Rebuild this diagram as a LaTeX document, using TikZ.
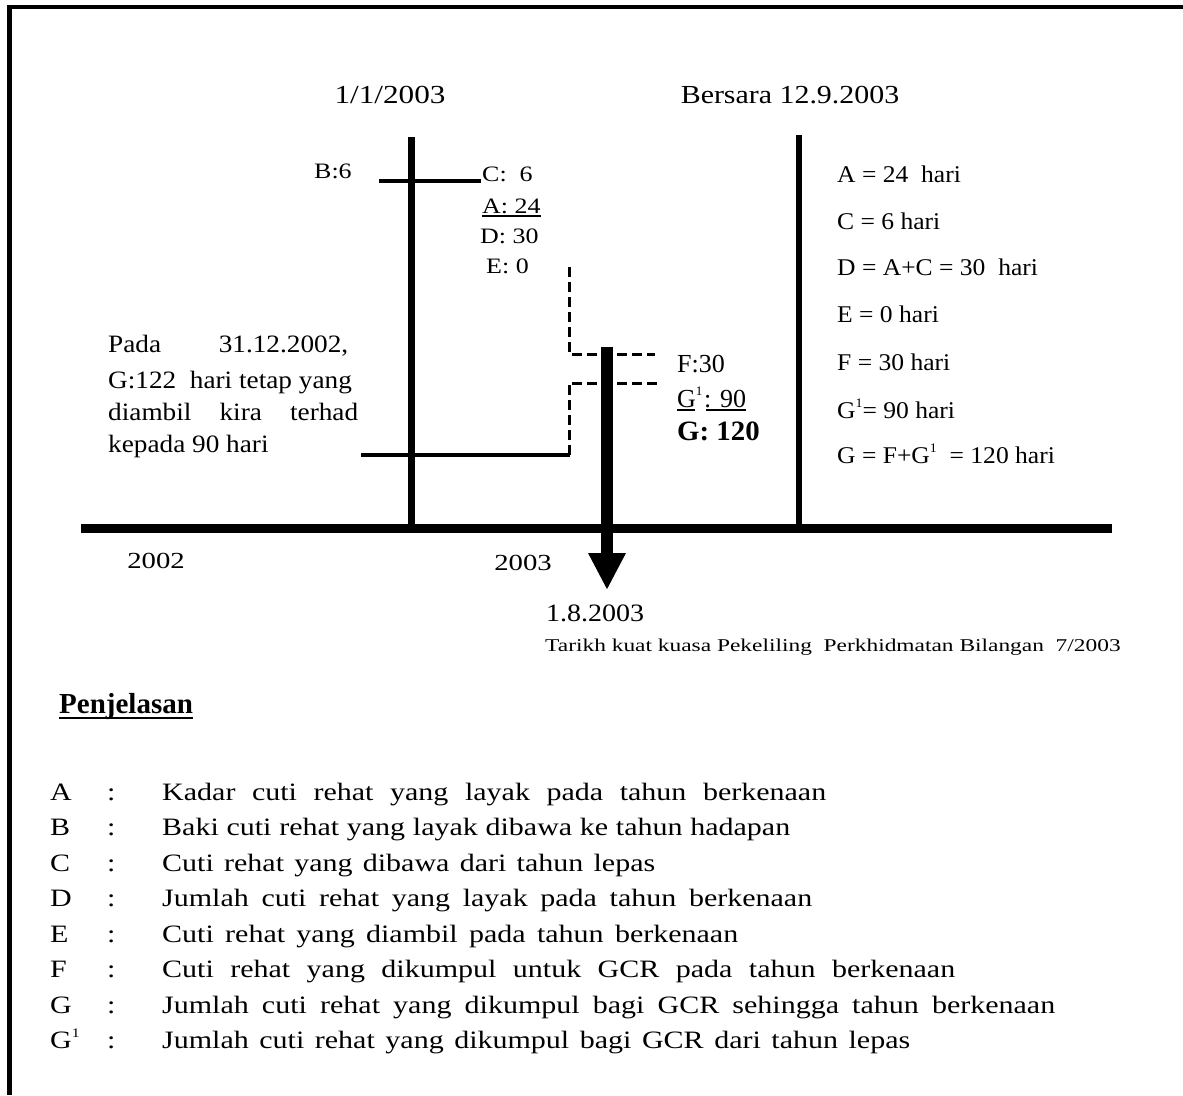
\documentclass[tikz,border=0pt]{standalone}
\usepackage{fontspec}
\setmainfont{Liberation Serif}
\usetikzlibrary{arrows.meta,calc}
\newcommand\fnt[2]{\fontsize{#1}{#1}\selectfont\addfontfeature{FakeStretch=#2}}
\newcommand\supone{\raisebox{0.45em}{\fontsize{13}{13}\selectfont 1}}
\begin{document}
\begin{tikzpicture}[x=1pt,y=-1pt,
  t/.style={inner sep=0pt, anchor=base west},
  tc/.style={inner sep=0pt, anchor=base},
  sm/.style={font=\fnt{22}{1.18}},
  fg/.style={font=\fnt{26}{1.0}},
  rl/.style={font=\fnt{24}{1.065}},
  para/.style={font=\fnt{25}{1.09}},
  yr/.style={font=\fnt{23}{1.25}},
  leg/.style={font=\fnt{25}{1.2}},
  dashline/.style={line width=3pt, dash pattern=on 10pt off 5pt},
  ul/.style={line width=1.5pt}]
\useasboundingbox (0,0) rectangle (1183,1095);
% frame
\coordinate (fr1) at (7.3,7);
\coordinate (fr2) at (1183,7);
\coordinate (fl1) at (9.5,5);
\coordinate (fl2) at (9.5,1095);
\draw[line width=4pt] (fr1) -- (fr2);
\draw[line width=4.5pt] (fl1) -- (fl2);
% timeline
\coordinate (tl1) at (81,528);
\coordinate (tl2) at (1112,528);
\coordinate (v1a) at (411,137);
\coordinate (v1b) at (411,528);
\coordinate (v2a) at (799,135);
\coordinate (v2b) at (799,528);
\draw[line width=7pt] (v1a) -- (v1b);
\draw[line width=6pt] (v2a) -- (v2b);
\draw[line width=9pt] (tl1) -- (tl2);
% B line
\coordinate (bl1) at (379,181);
\coordinate (bl2) at (481,181);
\draw[line width=4pt] (bl1) -- (bl2);
% lower solid line
\coordinate (sl1) at (361,455);
\coordinate (sl2) at (570,455);
\draw[line width=4pt] (sl1) -- (sl2);
% dashed
\coordinate (d1a) at (569,267);
\coordinate (d1b) at (569,354);
\coordinate (d1c) at (655,354);
\coordinate (d2a) at (569,455);
\coordinate (d2b) at (569,383);
\coordinate (d2c) at (659,383);
\draw[dashline] (d1a) -- (d1b) -- (d1c);
\draw[dashline] (d2a) -- (d2b) -- (d2c);
% arrow
\coordinate (ar1) at (607,347);
\coordinate (ar2) at (607,590);
\draw[line width=12pt, -{Triangle[width=35pt,length=37pt]}] (ar1) -- (ar2);
% top labels
\node[tc,font=\fnt{26}{1.2}] (d0101) at (390,103) {1/1/2003};
\node[tc,font=\fnt{26}{1.15}] (bersara) at (790,103) {Bersara 12.9.2003};
% left values
\node[t,sm] (nB) at (314,178) {B:6};
\node[t,sm] (nC) at (482,181) {C:\ \ 6};
\node[t,sm] (nA) at (482,213) {A: 24};
\draw[ul] ($(nA.base west)+(0,3)$) -- ($(nA.base east)+(0,3)$);
\node[t,sm] (nD) at (480,243) {D: 30};
\node[t,sm] (nE) at (486,273) {E: 0};
% F G values
\node[t,fg] (nF) at (677,372) {F:30};
\node[t,fg] (nG1a) at (677,407) {G\supone};
\node[t,fg] (nG1b) at (704,407) {: 90};
\draw[ul] ($(nG1a.base west)+(0,3)$) -- ($(nG1a.base west)+(18,3)$);
\draw[ul] ($(nG1b.base west)+(2,3)$) -- ($(nG1b.base east)+(0,3)$);
\node[t,font=\fnt{28}{1.03}\bfseries] (nG) at (677,440) {G: 120};
% right list
\node[t,rl] (r1) at (837,182) {A = 24\ \ hari};
\node[t,rl] (r2) at (837,229) {C = 6 hari};
\node[t,rl] (r3) at (837,275) {D = A+C = 30\ \ hari};
\node[t,rl] (r4) at (837,322) {E = 0 hari};
\node[t,rl] (r5) at (837,370) {F = 30 hari};
\node[t,rl] (r6) at (837,418) {G\supone= 90 hari};
\node[t,rl] (r7) at (837,463) {G = F+G\supone\ \ = 120 hari};
% paragraph
\node[t,para] (p1) at (108,352) {\hbox to 240pt{Pada\hfill 31.12.2002,}};
\node[t,para] (p2) at (108,388) {G:122\ \ hari tetap yang};
\node[t,para] (p3) at (108,420) {\hbox to 250pt{diambil\hfill kira\hfill terhad}};
\node[t,para] (p4) at (108,452) {kepada 90 hari};
% years
\node[tc,yr] (y2002) at (156,568) {2002};
\node[tc,yr] (y2003) at (523,570) {2003};
\node[t,font=\fnt{25}{1.12}] (d0108) at (546,621) {1.8.2003};
\node[t,font=\fnt{18}{1.3}] (tarikh) at (545,651) {Tarikh kuat kuasa Pekeliling\ \ Perkhidmatan Bilangan\ \ 7/2003};
% Penjelasan
\node[t,font=\fnt{29}{1.0}\bfseries] (penj) at (59,713) {Penjelasan};
\draw[line width=2.5pt] ($(penj.base west)+(0,5)$) -- ($(penj.base east)+(0,5)$);
% legend
\foreach \i/\L/\w/\txt in {
  0/A/664/{Kadar cuti rehat yang layak pada tahun berkenaan},
  1/B/628/{Baki cuti rehat yang layak dibawa ke tahun hadapan},
  2/C/493/{Cuti rehat yang dibawa dari tahun lepas},
  3/D/650/{Jumlah cuti rehat yang layak pada tahun berkenaan},
  4/E/576/{Cuti rehat yang diambil pada tahun berkenaan},
  5/F/793/{Cuti rehat yang dikumpul untuk GCR pada tahun berkenaan},
  6/G/893/{Jumlah cuti rehat yang dikumpul bagi GCR sehingga tahun berkenaan},
  7/{G\supone}/748/{Jumlah cuti rehat yang dikumpul bagi GCR dari tahun lepas}} {
  \node[t,leg] (lk\i) at (50,800+35.5*\i) {\L};
  \node[t,leg] (lc\i) at (107,800+35.5*\i) {:};
  \node[t,leg] (lt\i) at (162,800+35.5*\i) {\hbox to \w pt{\spaceskip=0.25em plus 1fil\relax\txt}};
}
\end{tikzpicture}
\end{document}
